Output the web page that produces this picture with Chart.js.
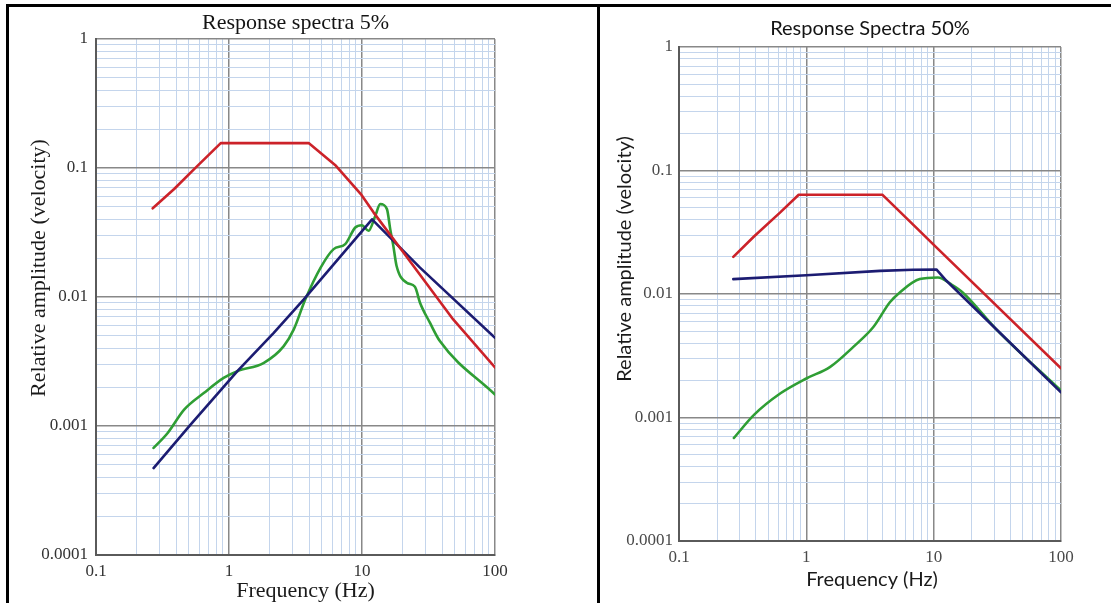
<!DOCTYPE html>
<html>
<head>
<meta charset="utf-8">
<title>Response spectra</title>
<script src="https://cdn.jsdelivr.net/npm/chart.js@4.4.1/dist/chart.umd.min.js"></script>
<style>
    html, body { margin: 0; padding: 0; background: #fff; }
    body { width: 1111px; height: 603px; position: relative; overflow: hidden; }
    canvas { position: absolute; top: 0; }
    #spectra5 { left: 0; }
    #spectra50 { left: 600px; }
    .rule { position: absolute; background: #000; }
</style>
</head>
<body>
<div class="rule" style="left:6px;top:4px;width:1105px;height:3px"></div>
<div class="rule" style="left:6px;top:4px;width:3px;height:599px"></div>
<div class="rule" style="left:597px;top:4px;width:3px;height:599px"></div>
<canvas id="spectra5" width="597" height="603"></canvas>
<canvas id="spectra50" width="511" height="603"></canvas>
<script>
// axis decades (labels shown on the log axes)
const freqTicks = ['0.1', '1', '10', '100']
const ampTicks = ['0.0001', '0.001', '0.01', '0.1', '1']

// 5% damping
const f5Red = [0.267, 0.387, 0.547, 0.867, 3.97, 6.37, 9.8, 12.2, 20.5, 48.5, 100]
const a5Red = [0.0487, 0.0687, 0.098, 0.156, 0.156, 0.104, 0.0628, 0.0453, 0.0221, 0.0067, 0.00284]
const f5Blue = [0.271, 0.516, 1.156, 2.17, 3.65, 11.9, 27.3, 100]
const a5Blue = [0.000472, 0.00103, 0.00266, 0.00528, 0.0096, 0.040, 0.0169, 0.00483]
const f5Green = [0.271, 0.346, 0.46, 0.65, 0.918, 1.156, 1.83, 2.58, 3.07, 3.75, 4.9, 6.12, 7.48, 8.9, 9.98,
    11.2, 12.6, 13.7, 15.4, 16.3, 17.2, 18.2, 21.7, 25, 27.3, 32.4, 38.5, 100]
const a5Green = [0.000676, 0.000883, 0.00134, 0.00181, 0.00237, 0.00266, 0.00309, 0.00416, 0.00561, 0.0096, 0.017, 0.0235, 0.0257, 0.0346, 0.036,
    0.0326, 0.0426, 0.0525, 0.048, 0.0336, 0.0249, 0.0174, 0.0129, 0.012, 0.00904, 0.00632, 0.00455, 0.00175]

// 50% damping
const f50Red = [0.267, 0.388, 0.627, 0.871, 3.95, 7.78, 9.93, 100]
const a50Red = [0.02, 0.0292, 0.046, 0.0637, 0.0637, 0.0323, 0.0252, 0.0025]
const f50Blue = [0.267, 1, 3.79, 6.9, 10.5, 12.6, 32.8, 100]
const a50Blue = [0.0132, 0.0142, 0.0154, 0.0157, 0.0158, 0.0128, 0.0049, 0.0016]
const f50Green = [0.27, 0.388, 0.627, 1, 1.54, 2.34, 3.36, 4.53, 5.42, 7.78, 10.8, 13.7, 16.9, 30.9, 100]
const a50Green = [0.000683, 0.00105, 0.00157, 0.00207, 0.00257, 0.00373, 0.0054, 0.00857, 0.0103, 0.0132, 0.0136, 0.012, 0.0103, 0.0052, 0.00165]

const RED = '#cc2229', BLUE = '#1c1c72', GREEN = '#2f9e34'

// 1..9 lines inside every decade
function decadeGrid(decades) {
    let out = []
    decades.forEach((d, i) => {
        out.push(d)
        if (i < decades.length - 1)
            for (let k = 2; k < 10; k++) out.push(d * k)
    })
    return out
}

function logAxis(labels, opt) {
    const decades = labels.map(Number)
    const decadeIndex = v => decades.findIndex(d => Math.abs(v / d - 1) < 1e-9)
    return {
        type: 'logarithmic',
        min: decades[0],
        max: decades[decades.length - 1],
        afterBuildTicks: scale => {
            scale.ticks = decadeGrid(decades).map(v => ({ value: v }))
        },
        afterFit: scale => {
            if (opt.width) scale.width = opt.width
            if (opt.height) scale.height = opt.height
        },
        grid: {
            drawTicks: false,
            color: ctx => ctx.tick && decadeIndex(ctx.tick.value) >= 0 ? '#888888' : '#c4d5ec',
            lineWidth: ctx => ctx.tick && decadeIndex(ctx.tick.value) >= 0 ? 1.5 : 1
        },
        border: { color: '#5a5a5a', width: 2 },
        ticks: {
            autoSkip: false,
            maxRotation: 0,
            padding: opt.pad,
            color: opt.color,
            font: { family: 'Liberation Serif', size: 17 },
            callback: v => {
                let i = decadeIndex(v)
                return i >= 0 ? labels[i] : ''
            }
        }
    }
}

// axis captions, placed from the plot area
const axisCaptions = {
    id: 'axisCaptions',
    afterDraw(chart, args, opts) {
        const { ctx, chartArea: a } = chart
        ctx.save()
        ctx.fillStyle = opts.color
        ctx.font = opts.font
        ctx.textAlign = 'center'
        ctx.textBaseline = 'middle'
        ctx.fillText(opts.xText, (a.left + a.right) / 2 + opts.xAt[0], a.bottom + opts.xAt[1])
        ctx.translate(a.left + opts.yAt[0], a.top + opts.yAt[1])
        ctx.rotate(-Math.PI / 2)
        ctx.fillText(opts.yText, 0, 0)
        ctx.restore()
    }
}

function spectrumChart(id, series, look) {
    return new Chart(document.getElementById(id), {
        type: 'line',
        data: {
            datasets: series.map(s => ({
                data: s.freq.map((f, i) => ({ x: f, y: s.amp[i] })),
                borderColor: s.color,
                borderWidth: 2.6,
                pointRadius: 0,
                tension: s.smooth ? 0.4 : 0,
                cubicInterpolationMode: s.smooth ? 'monotone' : 'default',
                borderJoinStyle: 'round',
                borderCapStyle: 'round'
            }))
        },
        options: {
            responsive: false,
            animation: false,
            events: [],
            layout: { padding: { left: 0, right: look.right, top: 0, bottom: 0 } },
            plugins: {
                legend: { display: false },
                tooltip: { enabled: false },
                title: {
                    display: true,
                    fullSize: false,
                    text: look.title,
                    color: '#141414',
                    font: look.titleFont,
                    padding: look.titlePad
                },
                axisCaptions: look.captions
            },
            scales: {
                x: logAxis(freqTicks, { height: look.xHeight, pad: 6, color: look.tickColor }),
                y: logAxis(ampTicks, { width: look.yWidth, pad: look.yPad, color: look.tickColor })
            }
        },
        plugins: [axisCaptions]
    })
}

spectrumChart('spectra5', [
    { freq: f5Red, amp: a5Red, color: RED },
    { freq: f5Blue, amp: a5Blue, color: BLUE },
    { freq: f5Green, amp: a5Green, color: GREEN, smooth: true }
], {
    title: 'Response spectra 5%',
    titleFont: { family: 'Liberation Serif', size: 22, weight: 'normal' },
    titlePad: { top: 10, bottom: 2.6 },
    right: 102, yWidth: 96, xHeight: 48, yPad: 8,
    tickColor: '#333333',
    captions: {
        font: '22px "Liberation Serif"', color: '#1a1a1a',
        xText: 'Frequency (Hz)', xAt: [10, 36],
        yText: 'Relative amplitude (velocity)', yAt: [-57, 229]
    }
})

spectrumChart('spectra50', [
    { freq: f50Red, amp: a50Red, color: RED },
    { freq: f50Blue, amp: a50Blue, color: BLUE },
    { freq: f50Green, amp: a50Green, color: GREEN, smooth: true }
], {
    title: 'Response Spectra 50%',
    titleFont: { family: 'Lato', size: 20, weight: 'normal' },
    titlePad: { top: 17, bottom: 6 },
    right: 50, yWidth: 79, xHeight: 62, yPad: 6,
    tickColor: '#4a4a4a',
    captions: {
        font: '20px Lato', color: '#1a1a1a',
        xText: 'Frequency (Hz)', xAt: [2, 39],
        yText: 'Relative amplitude (velocity)', yAt: [-54, 212]
    }
})
</script>
</body>
</html>
